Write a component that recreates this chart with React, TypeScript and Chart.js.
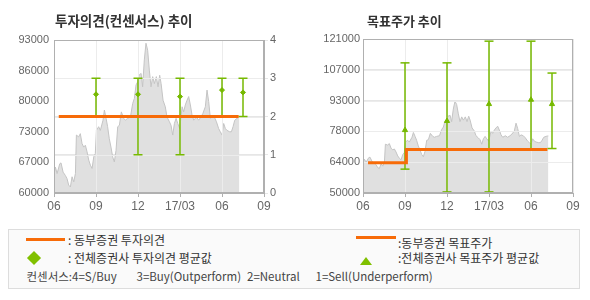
import React, { useEffect, useRef } from 'react';
import { Chart, registerables } from 'chart.js';

Chart.register(...registerables);

// ---------- data ----------
const xTickValues = [0, 3, 6, 9, 12, 15];
const xTickLabels = ['06', '09', '12', '17/03', '06', '09'];

// month offsets from 2016-06 and closing prices
const priceMonths = [
  0, 0.1, 0.22, 0.41, 0.5, 0.65, 0.81, 0.93, 1.05, 1.17, 1.29, 1.41, 1.53, 1.6, 1.76, 1.88, 2.0, 2.12,
  2.24, 2.36, 2.48, 2.6, 2.72, 2.84, 2.95, 3.03, 3.19, 3.31, 3.5, 3.6, 3.72, 3.83, 3.95, 4.07, 4.19,
  4.31, 4.43, 4.55, 4.67, 4.81, 4.98, 5.1, 5.26, 5.46, 5.62, 5.74, 5.86, 5.98, 6.07, 6.22, 6.33, 6.45,
  6.57, 6.69, 6.81, 6.93, 7.05, 7.17, 7.31, 7.43, 7.55, 7.65, 7.79, 7.95, 8.07, 8.24, 8.36, 8.48, 8.6,
  8.72, 8.84, 8.98, 9.15, 9.26, 9.38, 9.5, 9.62, 9.74, 9.86, 9.98, 10.17, 10.33, 10.5, 10.64, 10.81,
  10.93, 11.05, 11.17, 11.29, 11.45, 11.6, 11.76, 11.88, 12.0, 12.12, 12.24, 12.36, 12.55, 12.67,
  12.79, 12.91, 13.07, 13.19, 13.24,
];
const prices = [
  63800, 65600, 64200, 66300, 66500, 64500, 63800, 63100, 61700, 61300, 63500, 62400, 64200, 72500, 72100, 72800, 70700, 69900,
  70300, 68900, 67100, 66000, 65300, 67800, 68500, 73500, 74300, 73500, 75700, 77900, 76100, 74300, 71700, 69900, 67800,
  66700, 69200, 74300, 74600, 77500, 76100, 75700, 76100, 76400, 79300, 80400, 83300, 84000, 85400, 85800, 82900, 88700,
  92300, 90800, 86500, 82900, 85100, 83600, 85100, 82900, 85400, 83600, 80000, 78600, 76400, 75400, 74600, 72500, 75000,
  76100, 75000, 73900, 78600, 77500, 79000, 80000, 80800, 79000, 76800, 75700, 76400, 75700, 76400, 77200, 78600,
  82200, 79700, 76100, 76800, 76400, 75400, 73900, 73200, 72500, 75000, 73900, 73500, 73200, 73200,
  74300, 75700, 76100, 76300, 76300,
];

// left chart (투자의견)
const ratingPriceTicks = [60000, 66600, 73200, 79800, 86400, 93000];
const ratingPriceTickLabels = ['60000', '67000', '73000', '80000', '86000', '93000'];
const ratingTicks = [0, 1, 2, 3, 4];
const dongbuRatingMonths = [0.34, 13.19];
const dongbuRatings = [2, 2];
const consensusMonths = [3, 6, 9, 12, 13.5];
const ratingMin = [2, 1, 1, 2, 2];
const ratingMax = [3, 3, 3, 3, 3];
const ratingAvg = [2.58, 2.58, 2.52, 2.69, 2.63];

// right chart (목표주가)
const targetTicks = [50000, 64200, 78400, 92600, 106800, 121000];
const targetTickLabels = ['50000', '64000', '78000', '93000', '107000', '121000'];
const dongbuTargetMonths = [0.36, 3.1, 13.17];
const dongbuTargets = [64000, 70000, 70000];
const targetMonths = [3, 6, 9, 12, 13.5];
const targetMin = [61000, 50500, 50500, 70000, 70500];
const targetMax = [110000, 110000, 120000, 120000, 105300];
const targetAvg = [79000, 83200, 91000, 93000, 91000];

// ---------- styles ----------
const ORANGE = '#f76b08';
const GREEN = '#76b900';
const AXIS = '#b0b0b0';
const GRID = '#e6e6e6';
const GRID_ON_FILL = '#ececec';
const TICK = '#666666';
const TICK_FONT = '"Liberation Sans", Arial, sans-serif';
const KR_FONT = '"Noto Sans CJK KR", "Noto Sans", sans-serif';

const gridOverFill = {
  id: 'gridOverFill',
  afterDatasetDraw(chart: any, args: any, opts: any) {
    if (args.index !== 0) return;
    const { ctx, chartArea: a } = chart;
    const xs = chart.scales.x;
    const ys = chart.scales[opts.gridAxis];
    ctx.save();
    ctx.beginPath();
    ctx.rect(a.left, a.top, a.right - a.left, a.bottom - a.top);
    ctx.clip();
    ctx.strokeStyle = GRID_ON_FILL;
    ctx.lineWidth = 1;
    ctx.beginPath();
    xs.ticks.forEach((_: any, i: number) => {
      const px = Math.round(xs.getPixelForTick(i)) + 0.5;
      ctx.moveTo(px, a.top);
      ctx.lineTo(px, a.bottom);
    });
    ys.ticks.forEach((_: any, i: number) => {
      const py = Math.round(ys.getPixelForTick(i)) + 0.5;
      ctx.moveTo(a.left, py);
      ctx.lineTo(a.right, py);
    });
    ctx.stroke();
    ctx.restore();
  },
};

const frame = {
  id: 'frame',
  afterDatasetsDraw(chart: any) {
    const { ctx, chartArea: a } = chart;
    ctx.save();
    ctx.strokeStyle = AXIS;
    ctx.lineWidth = 1;
    const l = Math.round(a.left) + 0.5;
    const t = Math.round(a.top) + 0.5;
    const r = Math.round(a.right) - 0.5;
    const b = Math.round(a.bottom) - 0.5;
    ctx.strokeRect(l, t, r - l, b - t);
    ctx.restore();
  },
};

function xScale() {
  return {
    type: 'linear',
    min: 0,
    max: 15,
    afterBuildTicks: (s: any) => {
      s.ticks = xTickValues.map((v) => ({ value: v }));
    },
    afterFit: (s: any) => {
      s.height = 27;
    },
    ticks: {
      autoSkip: false,
      maxRotation: 0,
      padding: 2,
      color: TICK,
      font: { family: TICK_FONT, size: 12 },
      callback: (_v: any, i: number) => xTickLabels[i],
    },
    grid: { color: GRID, tickColor: AXIS, tickLength: 4 },
    border: { color: AXIS },
  };
}

function priceDataset() {
  return {
    type: 'line',
    data: priceMonths.map((m, i) => ({ x: m, y: prices[i] })),
    yAxisID: 'y',
    borderColor: '#c4c4c4',
    borderWidth: 1,
    backgroundColor: '#e0e0e0',
    fill: 'start',
    pointRadius: 0,
    tension: 0,
    order: 10,
  };
}

function barDatasets(months: number[], mins: number[], maxs: number[], axis: string) {
  return months.map((m, i) => ({
    type: 'line',
    data: [
      { x: m, y: mins[i] },
      { x: m, y: maxs[i] },
    ],
    yAxisID: axis,
    borderColor: GREEN,
    borderWidth: 1.5,
    pointStyle: 'line',
    pointRadius: 4.5,
    pointBorderColor: GREEN,
    pointBorderWidth: 1.5,
    fill: false,
    order: 3,
  }));
}

function ratingConfig(): any {
  return {
    type: 'line',
    data: {
      datasets: [
        priceDataset(),
        ...barDatasets(consensusMonths, ratingMin, ratingMax, 'y2'),
        {
          type: 'line',
          data: dongbuRatingMonths.map((m, i) => ({ x: m, y: dongbuRatings[i] })),
          yAxisID: 'y2',
          borderColor: ORANGE,
          borderWidth: 3,
          pointRadius: 0,
          fill: false,
          order: 1,
        },
        {
          type: 'line',
          data: consensusMonths.map((m, i) => ({ x: m, y: ratingAvg[i] })),
          yAxisID: 'y2',
          showLine: false,
          pointStyle: 'rectRot',
          pointRadius: 2.5,
          pointBackgroundColor: GREEN,
          pointBorderColor: GREEN,
          pointBorderWidth: 1,
          order: 0,
        },
      ],
    },
    options: {
      animation: false,
      responsive: true,
      maintainAspectRatio: false,
      layout: { padding: { top: 40, left: 0, right: 0, bottom: 0 } },
      plugins: {
        legend: { display: false },
        tooltip: { enabled: false },
        gridOverFill: { gridAxis: 'y2' },
      },
      scales: {
        x: xScale(),
        y: {
          type: 'linear',
          position: 'left',
          min: 60000,
          max: 93000,
          afterBuildTicks: (s: any) => {
            s.ticks = ratingPriceTicks.map((v) => ({ value: v }));
          },
          afterFit: (s: any) => {
            s.width = 54;
          },
          ticks: {
            padding: 5,
            color: TICK,
            font: { family: TICK_FONT, size: 11 },
            callback: (_v: any, i: number) => ratingPriceTickLabels[i],
          },
          grid: { drawOnChartArea: false, drawTicks: false },
          border: { color: AXIS },
        },
        y2: {
          type: 'linear',
          position: 'right',
          min: 0,
          max: 4,
          afterBuildTicks: (s: any) => {
            s.ticks = ratingTicks.map((v) => ({ value: v }));
          },
          afterFit: (s: any) => {
            s.width = 31;
          },
          ticks: {
            padding: 2,
            color: TICK,
            font: { family: TICK_FONT, size: 11 },
            callback: (v: any) => String(v),
          },
          grid: { color: GRID, tickLength: 4 },
          border: { color: AXIS },
        },
      },
    },
    plugins: [gridOverFill, frame],
  };
}

function targetConfig(): any {
  return {
    type: 'line',
    data: {
      datasets: [
        priceDataset(),
        ...barDatasets(targetMonths, targetMin, targetMax, 'y'),
        {
          type: 'line',
          data: dongbuTargetMonths.map((m, i) => ({ x: m, y: dongbuTargets[i] })),
          yAxisID: 'y',
          borderColor: ORANGE,
          borderWidth: 3,
          pointRadius: 0,
          stepped: 'before',
          fill: false,
          order: 1,
        },
        {
          type: 'line',
          data: targetMonths.map((m, i) => ({ x: m, y: targetAvg[i] })),
          yAxisID: 'y',
          showLine: false,
          pointStyle: 'triangle',
          pointRadius: 3,
          pointBackgroundColor: GREEN,
          pointBorderColor: GREEN,
          pointBorderWidth: 1,
          order: 0,
        },
      ],
    },
    options: {
      animation: false,
      responsive: true,
      maintainAspectRatio: false,
      layout: { padding: { top: 39, left: 0, right: 17, bottom: 0 } },
      plugins: {
        legend: { display: false },
        tooltip: { enabled: false },
        gridOverFill: { gridAxis: 'y' },
      },
      scales: {
        x: xScale(),
        y: {
          type: 'linear',
          position: 'left',
          min: 50000,
          max: 121000,
          afterBuildTicks: (s: any) => {
            s.ticks = targetTicks.map((v) => ({ value: v }));
          },
          afterFit: (s: any) => {
            s.width = 68;
          },
          ticks: {
            padding: 3,
            color: TICK,
            font: { family: TICK_FONT, size: 11 },
            callback: (_v: any, i: number) => targetTickLabels[i],
          },
          grid: { color: GRID, drawTicks: false },
          border: { color: AXIS },
        },
      },
    },
    plugins: [gridOverFill, frame],
  };
}

function ChartBox({ make, left }: { make: () => any; left: number }) {
  const ref = useRef<HTMLCanvasElement | null>(null);
  useEffect(() => {
    if (!ref.current) return;
    const chart = new Chart(ref.current, make());
    return () => chart.destroy();
  }, [make]);
  return (
    <div style={{ position: 'absolute', left, top: 0, width: 295, height: 220 }}>
      <canvas ref={ref} />
    </div>
  );
}

const titleStyle: React.CSSProperties = {
  position: 'absolute',
  top: 14,
  fontFamily: KR_FONT,
  fontWeight: 'bold',
  fontSize: 13,
  lineHeight: '13px',
  color: '#333',
  whiteSpace: 'nowrap',
};

const legendText: React.CSSProperties = {
  position: 'absolute',
  fontFamily: KR_FONT,
  fontSize: 12,
  lineHeight: '12px',
  color: '#333',
  whiteSpace: 'nowrap',
};

const smallText: React.CSSProperties = {
  ...legendText,
  fontSize: 11.5,
  lineHeight: '12px',
  color: '#444',
};

export default function App() {
  return (
    <div
      style={{
        position: 'absolute',
        left: 0,
        top: 0,
        width: 590,
        height: 300,
        background: '#fff',
        overflow: 'hidden',
      }}
    >
      <ChartBox make={ratingConfig} left={0} />
      <ChartBox make={targetConfig} left={295} />
      <div style={{ ...titleStyle, left: 55, fontSize: 13.5, top: 13.5, lineHeight: '13.5px' }}>투자의견(컨센서스) 추이</div>
      <div style={{ ...titleStyle, left: 367 }}>목표주가 추이</div>

      <div
        style={{
          position: 'absolute',
          left: 8,
          top: 229,
          width: 572,
          height: 60,
          boxSizing: 'border-box',
          border: '1px solid #dddddd',
          background: '#fafafa',
        }}
      >
        <div style={{ position: 'absolute', left: 17, top: 8, width: 39, height: 3, background: ORANGE }} />
        <div style={{ ...legendText, left: 59, top: 4 }}>: 동부증권 투자의견</div>
        <div
          style={{
            position: 'absolute',
            left: 19.5,
            top: 22.5,
            width: 10,
            height: 10,
            background: '#80c000',
            transform: 'rotate(45deg)',
          }}
        />
        <div style={{ ...legendText, left: 59, top: 22 }}>: 전체증권사 투자의견 평균값</div>
        <div style={{ ...smallText, left: 17.5, top: 40 }}>컨센서스:4=S/Buy</div>
        <div style={{ ...smallText, left: 127.5, top: 40 }}>3=Buy(Outperform)</div>
        <div style={{ ...smallText, left: 238, top: 40 }}>2=Neutral</div>
        <div style={{ ...smallText, left: 306.5, top: 40 }}>1=Sell(Underperform)</div>

        <div style={{ position: 'absolute', left: 346.5, top: 6, width: 40, height: 3, background: ORANGE }} />
        <div style={{ ...legendText, left: 389, top: 6.5 }}>:동부증권 목표주가</div>
        <div
          style={{
            position: 'absolute',
            left: 350.5,
            top: 26.5,
            width: 0,
            height: 0,
            borderLeft: '6.5px solid transparent',
            borderRight: '6.5px solid transparent',
            borderBottom: '8px solid #80c000',
          }}
        />
        <div style={{ ...legendText, left: 389, top: 22 }}>:전체증권사 목표주가 평균값</div>
      </div>
    </div>
  );
}
